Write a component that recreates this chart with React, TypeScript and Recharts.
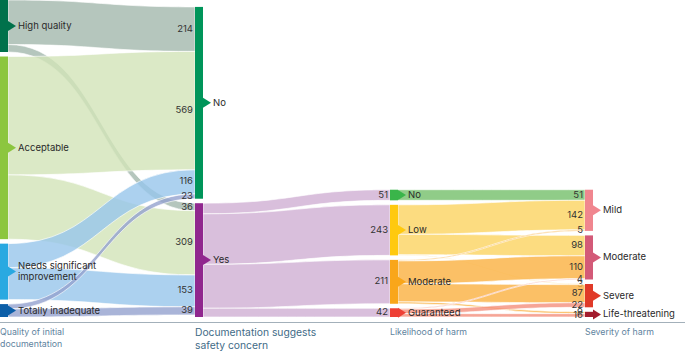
import React from 'react';
import { Sankey } from 'recharts';

// nodes, column by column
const nodeNames = [
  'High quality', 'Acceptable', 'Needs significant improvement', 'Totally inadequate',
  'No', 'Yes',
  'No', 'Low', 'Moderate', 'Guaranteed',
  'Mild', 'Moderate', 'Severe', 'Life-threatening',
];

// flows: source index, target index, value
const linkSource = [0, 0, 1, 1, 2, 2, 3, 3, 5, 5, 5, 5, 6, 7, 7, 7, 8, 8, 8, 8, 9, 9, 9];
const linkTarget = [4, 5, 4, 5, 4, 5, 4, 5, 6, 7, 8, 9, 10, 10, 11, 12, 10, 11, 12, 13, 11, 12, 13];
const linkValue = [214, 36, 569, 309, 116, 153, 23, 39, 51, 243, 211, 42, 51, 142, 98, 3, 5, 110, 87, 9, 4, 22, 16];

const columnTitles = [
  ['Quality of initial', 'documentation'],
  ['Documentation suggests', 'safety concern'],
  ['Likelihood of harm'],
  ['Severity of harm'],
];

const nodeColors = [
  '#00714b', '#8cc63f', '#29a9e1', '#0b5ea8',
  '#00955a', '#90278e',
  '#3ab54a', '#ffc90e', '#f9a61a', '#ee4036',
  '#f0868f', '#d35a78', '#e03a28', '#a31c2e',
];
const linkColors: Record<number, string> = {
  0: '#a3b8ad', 1: '#d2e3b8', 2: '#97c5eb', 3: '#93a1ce',
  5: '#cfafd3', 6: '#74bf6a', 7: '#fbd360', 8: '#fab040', 9: '#f48e7c',
};

const data = {
  nodes: nodeNames.map((name) => ({ name })),
  links: linkValue.map((value, i) => ({ source: linkSource[i], target: linkTarget[i], value })),
};

const FONT = 'Inter, "Noto Sans", sans-serif';

const SankeyNode = (props: any) => {
  const { x, y, width, height, index } = props;
  const color = nodeColors[index];
  const cy = y + height / 2;
  const tx = x + width;
  const name = nodeNames[index];
  const lines = name === 'Needs significant improvement' ? ['Needs significant', 'improvement'] : [name];
  return (
    <g>
      <rect x={x} y={y} width={width} height={height} fill={color} />
      <path d={`M${tx},${cy - 5} L${tx + 8},${cy} L${tx},${cy + 5} Z`} fill={color} />
      <text x={tx + 10} y={cy - (lines.length - 1) * 5.5} fontSize={9.5} fontFamily={FONT} fill="#2a2a2a" dominantBaseline="middle">
        {lines.map((l, i) => (
          <tspan key={i} x={tx + 10} dy={i === 0 ? 0 : 11}>{l}</tspan>
        ))}
      </text>
    </g>
  );
};

const SankeyLink = (props: any) => {
  const { sourceX, targetX, sourceY, targetY, sourceControlX, targetControlX, linkWidth, index } = props;
  const h = linkWidth / 2;
  const color = linkColors[linkSource[index]];
  const d =
    `M${sourceX},${sourceY - h} C${sourceControlX},${sourceY - h} ${targetControlX},${targetY - h} ${targetX},${targetY - h} ` +
    `L${targetX},${targetY + h} C${targetControlX},${targetY + h} ${sourceControlX},${sourceY + h} ${sourceX},${sourceY + h} Z`;
  return (
    <g>
      <path d={d} fill={color} fillOpacity={0.8} stroke="#fff" strokeWidth={0.8} strokeOpacity={0.8} />
      <text x={targetX - 2} y={targetY} fontSize={9.5} fontFamily={FONT} fill="#333" textAnchor="end" dominantBaseline="middle">
        {linkValue[index]}
      </text>
    </g>
  );
};

export default function App() {
  return (
    <div style={{ position: 'absolute', left: 0, top: 0, width: 685, height: 351, background: '#fff' }}>
      <Sankey
        width={685}
        height={351}
        data={data}
        node={<SankeyNode />}
        link={<SankeyLink />}
        nodeWidth={8}
        nodePadding={4.5}
        sort={false}
        align="left"
        margin={{ top: 0, right: 92, bottom: 34, left: 0 }}
      />
      <div style={{ position: 'absolute', left: 0, top: 321.5, width: 685, height: 1.5, background: '#a3b0ba' }} />
      {columnTitles.map((t, i) => (
        <div
          key={i}
          style={{
            position: 'absolute',
            left: i * 195,
            top: 326,
            fontFamily: FONT,
            fontSize: i === 1 ? 10.3 : 8.8,
            lineHeight: i === 1 ? '13px' : '12px',
            color: i === 1 ? '#3f6b87' : '#5f84a0',
            whiteSpace: 'nowrap',
          }}
        >
          {t.map((l, j) => (
            <div key={j}>{l}</div>
          ))}
        </div>
      ))}
    </div>
  );
}
